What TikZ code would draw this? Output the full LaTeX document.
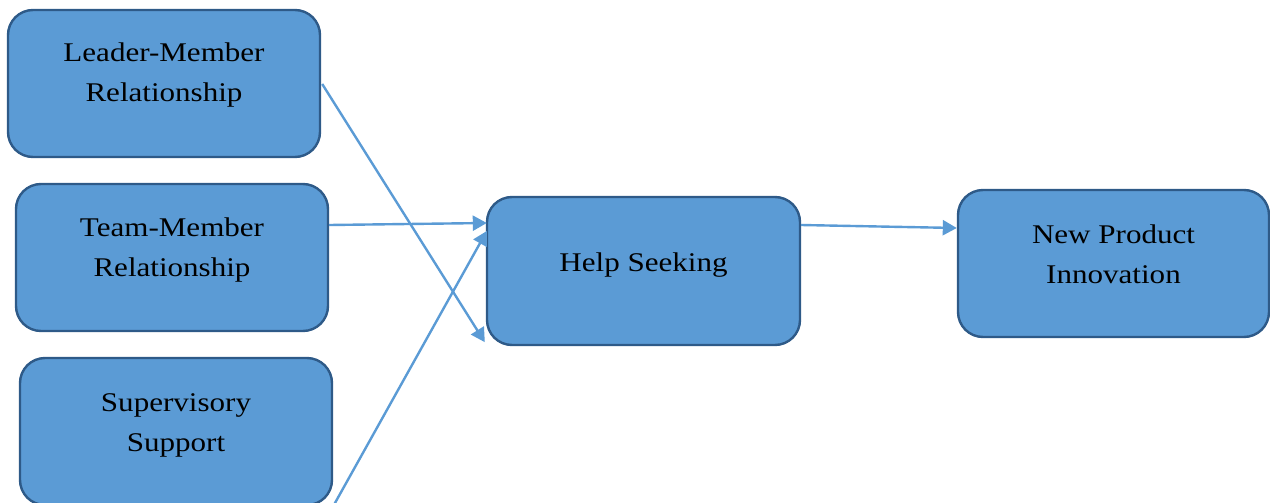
\documentclass[tikz,border=0pt]{standalone}
\usepackage{fontspec}
\setmainfont{Liberation Serif}[FakeStretch=1.15]
\usetikzlibrary{arrows.meta,calc}
\definecolor{boxfill}{HTML}{5B9BD5}
\definecolor{boxline}{HTML}{2E5A88}
\definecolor{arrowcol}{HTML}{5B9BD5}
\tikzset{
  box/.style={draw=boxline, fill=boxfill, line width=1.2pt, rounded corners=12.5pt,
    minimum width=156pt, minimum height=73.5pt, inner sep=0pt},
  boxtext/.style={align=center, font=\fontsize{13.5pt}{20pt}\selectfont, inner sep=0pt, text=black},
  conn/.style={draw=arrowcol, line width=1.2pt, -{Triangle[length=7pt,width=7.5pt]}}
}
\begin{document}
\begin{tikzpicture}[x=0.5pt,y=-0.5pt]
\useasboundingbox (0,0) rectangle (1270,503);
\node[box] (lm) at (164,83.5) {};
\node[box] (tm) at (172,257.5) {};
\node[box] (ss) at (176,431.5) {};
\node[box,minimum width=156.5pt,minimum height=74pt] (hs) at (643.5,271) {};
\node[box,minimum width=155.5pt] (np) at (1113.5,263.5) {};
\node[boxtext] (lmt) at ($(lm.center)+(0,-8)$) {Leader-Member\\Relationship};
\node[boxtext] (tmt) at ($(tm.center)+(0,-7.5)$) {Team-Member\\Relationship};
\node[boxtext] (sst) at ($(ss.center)+(0,-6)$) {Supervisory\\Support};
\node[boxtext] (hst) at ($(hs.center)+(0,-6)$) {Help Seeking};
\node[boxtext] (npt) at ($(np.center)+(0,-9.5)$) {New Product\\Innovation};
\draw[conn] ($(lm.east)+(1,0.5)$) -- ($(hs.south west)+(-1,-4)$);
\draw[conn] ($(tm.east)+(0,-32.5)$) -- ($(hs.west)+(1,-48)$);
\draw[conn] (ss.south east) -- ($(hs.west)+(1,-40)$);
\draw[conn] ($(hs.east)+(0,-46)$) -- ($(np.west)+(0,-35.5)$);
\end{tikzpicture}
\end{document}
